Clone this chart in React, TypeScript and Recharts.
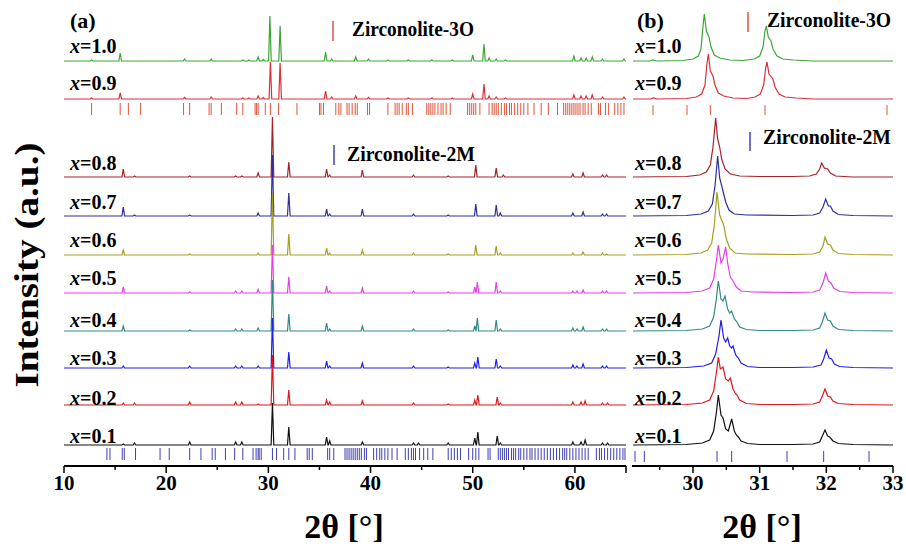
import React from 'react';
import { LineChart, Line, XAxis, YAxis, ReferenceLine } from 'recharts';

// ---------- data ----------
const SAMPLES = ['1.0', '0.9', '0.8', '0.7', '0.6', '0.5', '0.4', '0.3', '0.2', '0.1'];
// vertical stacking offset of each pattern (a.u.)
const OFFSETS = [405, 367, 289, 250, 211, 173, 135, 98, 61, 21];

// panel (a): reflections [2θ, intensity]
const PEAKS_10 = [[12.7,1],[15.5,8],[21.8,2],[24.4,2],[27.5,1],[28.1,1],[29.0,4],[29.5,1.5],[30.15,45],[31.15,35],[35.6,9],[36.2,2],[38.55,4],[39.8,2],[41.7,1],[43.7,1],[46.0,1],[48.0,1],[50.0,6],[51.1,17],[51.6,3],[52.3,2],[53.2,1],[59.9,5],[60.6,3],[61.1,3],[61.7,4],[62.7,2],[64.8,2]];
const PEAKS_09 = [[12.7,1],[15.5,6],[21.8,1.5],[24.4,2],[27.5,1],[28.1,1],[29.0,3],[29.5,1.5],[30.2,37],[31.15,36],[35.6,8],[36.2,2],[38.55,3],[39.8,1.5],[41.7,1],[43.7,1],[46.0,1],[48.0,1],[50.0,5],[51.1,15],[51.6,3],[52.3,2],[53.2,1],[59.9,4],[60.6,3],[61.1,3],[61.7,4],[62.7,2],[64.8,2]];
const PEAKS_08 = [[15.8,8],[16.9,1],[22.3,1],[26.8,1],[27.4,1],[29.0,4],[30.4,60],[32.0,15],[35.7,8],[36.0,2],[39.2,7],[44.2,2],[47.6,1],[50.3,12],[52.3,9],[53.0,2],[59.8,3],[60.8,4],[62.7,2],[63.1,2]];
const PEAKS_07 = [[15.8,9],[16.9,1],[22.3,1],[29.0,3],[30.4,61],[32.0,23],[35.7,7],[36.0,2],[39.2,7],[44.2,2],[47.6,1],[50.3,12],[52.3,11],[52.7,3],[59.8,3],[60.8,4],[62.7,2],[63.1,2]];
const PEAKS_06 = [[15.8,5],[22.3,1],[29.0,2],[30.4,62],[32.0,21],[35.7,7],[36.0,2],[39.2,5],[44.2,2],[47.6,1],[50.3,10],[52.3,9],[52.7,2],[59.8,2],[60.8,3],[62.7,2],[63.1,1]];
const PEAKS_05 = [[15.8,6],[22.3,1],[26.8,2],[27.4,2],[29.0,3.5],[30.4,48],[32.0,16],[35.7,7],[36.0,2],[39.2,5],[44.2,2],[47.6,1],[50.2,6],[50.45,11],[52.3,11],[52.7,2],[59.8,2],[60.2,2],[60.8,3],[62.7,2],[63.1,2]];
const PEAKS_04 = [[15.8,5],[22.3,1],[26.8,2],[27.4,2],[29.0,3],[30.4,51],[32.0,17],[35.7,8],[36.0,2],[39.2,5],[44.2,2],[47.6,1],[50.2,5],[50.45,13],[52.3,11],[52.7,2],[59.8,3],[60.2,2],[60.8,4],[62.7,2],[63.1,2]];
const PEAKS_03 = [[15.8,2],[22.3,2],[26.8,2],[27.4,2],[29.0,2],[30.4,50],[32.0,16],[35.7,7],[36.0,2],[39.2,5],[44.2,2],[47.6,1],[50.2,5],[50.5,11],[52.3,9],[52.7,2],[59.8,3],[60.2,2],[60.8,4],[62.7,2],[63.1,2]];
const PEAKS_02 = [[15.8,2],[16.9,2],[22.3,3],[26.8,3],[27.4,3],[29.0,1],[30.4,50],[32.0,15],[35.7,5],[36.0,3],[39.2,4],[44.2,2],[47.6,1],[50.2,5],[50.5,10],[52.4,8],[52.7,2],[59.8,3],[60.6,3],[61.0,4],[62.7,2],[63.2,2]];
const PEAKS_01 = [[15.8,1],[16.9,2],[22.3,3],[26.8,3],[27.4,3],[30.4,42],[32.0,18],[35.7,8],[36.0,4],[39.2,3],[44.2,2],[44.7,2],[47.6,2],[50.2,7],[50.5,13],[52.4,9],[52.7,2],[59.8,3],[60.6,3],[61.0,5],[62.7,2],[63.2,2]];
const PEAKS_A = [PEAKS_10, PEAKS_09, PEAKS_08, PEAKS_07, PEAKS_06, PEAKS_05, PEAKS_04, PEAKS_03, PEAKS_02, PEAKS_01];

// panel (b): measured profile points [2θ, intensity]
const PROF_10 = [[29.1,0],[29.35,0],[29.4,1],[29.45,0],[29.85,0.5],[30.0,2],[30.08,5],[30.12,12],[30.15,35],[30.17,47],[30.2,30],[30.24,24],[30.27,14],[30.32,6],[30.4,3],[30.55,1],[30.75,0.5],[30.92,2],[31.0,5],[31.05,14],[31.08,30],[31.1,35],[31.13,24],[31.17,20],[31.2,12],[31.26,5],[31.35,2],[31.5,1],[31.8,0],[33,0]];
const PROF_09 = [[29.1,0],[29.36,0],[29.41,1],[29.46,0],[29.9,0.5],[30.05,2],[30.13,5],[30.18,14],[30.21,36],[30.23,45],[30.26,28],[30.3,23],[30.33,14],[30.38,6],[30.46,3],[30.6,1],[30.8,0.5],[30.93,2],[31.01,5],[31.06,14],[31.09,31],[31.11,37],[31.14,25],[31.2,20],[31.23,12],[31.29,5],[31.38,2],[31.55,1],[31.8,0],[33,0]];
const PROF_08 = [[29.1,0],[29.9,0.5],[30.1,2],[30.2,5],[30.26,12],[30.3,30],[30.34,59],[30.37,38],[30.4,30],[30.43,18],[30.48,8],[30.56,3],[30.7,1],[31.0,0.5],[31.5,0.5],[31.75,1],[31.85,3],[31.9,8],[31.93,14],[31.97,9],[32.02,8],[32.06,4],[32.14,1],[32.4,0],[33,0]];
const PROF_07 = [[29.1,0],[29.9,0.5],[30.12,2],[30.23,5],[30.29,12],[30.33,30],[30.37,60],[30.4,38],[30.45,25],[30.49,14],[30.54,6],[30.62,2],[30.8,1],[31.5,0.5],[31.8,1],[31.9,3],[31.95,9],[31.99,17],[32.03,10],[32.06,10],[32.1,5],[32.18,1.5],[32.4,0.5],[33,0]];
const PROF_06 = [[29.1,0],[29.9,0.5],[30.12,2],[30.22,5],[30.28,12],[30.32,30],[30.36,63],[30.4,40],[30.46,30],[30.5,16],[30.55,7],[30.63,2],[30.8,1],[31.5,0.5],[31.8,1],[31.9,3],[31.95,9],[31.98,18],[32.02,11],[32.06,10],[32.1,5],[32.18,1.5],[32.4,0.5],[33,0]];
const PROF_05 = [[29.1,0],[29.9,0.5],[30.14,2],[30.25,5],[30.31,14],[30.35,32],[30.38,48],[30.42,30],[30.45,34],[30.49,46],[30.52,30],[30.56,16],[30.6,12],[30.65,6],[30.72,2],[30.9,1],[31.5,0.5],[31.8,1],[31.9,3],[31.95,10],[31.99,20],[32.03,12],[32.07,10],[32.11,5],[32.2,1.5],[32.4,0.5],[33,0]];
const PROF_04 = [[29.1,0],[29.9,0.5],[30.14,2],[30.25,5],[30.31,14],[30.35,32],[30.38,50],[30.42,32],[30.45,30],[30.48,35],[30.52,22],[30.55,18],[30.58,20],[30.62,12],[30.66,9],[30.7,4],[30.8,1.5],[31.0,0.5],[31.5,0.5],[31.8,1],[31.9,3],[31.94,9],[31.98,18],[32.02,11],[32.06,10],[32.1,5],[32.18,1.5],[32.4,0.5],[33,0]];
const PROF_03 = [[29.1,0],[29.9,0.5],[30.16,2],[30.28,5],[30.34,14],[30.39,32],[30.42,48],[30.46,30],[30.49,26],[30.52,30],[30.55,22],[30.58,20],[30.6,22],[30.64,13],[30.68,10],[30.72,5],[30.82,1.5],[31.0,0.5],[31.5,0.5],[31.8,1],[31.92,3],[31.96,9],[32.0,18],[32.04,10],[32.08,9],[32.12,4],[32.2,1.5],[32.4,0.5],[33,0]];
const PROF_02 = [[29.1,0],[29.9,0.5],[30.14,2],[30.25,5],[30.31,14],[30.35,32],[30.38,48],[30.41,36],[30.45,38],[30.49,26],[30.53,24],[30.56,27],[30.6,16],[30.63,12],[30.66,10],[30.7,5],[30.8,1.5],[31.0,0.5],[31.5,0.5],[31.8,1],[31.9,3],[31.94,9],[31.98,16],[32.02,9],[32.06,8],[32.1,4],[32.18,1.5],[32.4,0.5],[33,0]];
const PROF_01 = [[29.1,0],[29.9,0.5],[30.14,2],[30.25,5],[30.31,14],[30.35,32],[30.38,50],[30.42,30],[30.45,27],[30.49,16],[30.53,14],[30.58,26],[30.62,14],[30.65,10],[30.68,8],[30.72,4],[30.82,1.5],[31.0,0.5],[31.5,0.5],[31.8,1],[31.9,3],[31.94,9],[31.98,15],[32.02,9],[32.05,8],[32.1,4],[32.18,1.5],[32.4,0.5],[33,0]];
const PROF_B = [PROF_10, PROF_09, PROF_08, PROF_07, PROF_06, PROF_05, PROF_04, PROF_03, PROF_02, PROF_01];

// reference reflections (2θ)
const REF_3O_A = [12.7,15.5,16.3,17.5,21.7,22.3,24.2,24.4,25.4,26.9,27.5,28.7,28.85,29.0,29.7,30.2,31.0,32.8,35.0,35.15,35.4,36.6,36.9,37.1,37.7,37.9,38.2,38.5,38.7,39.7,39.9,41.7,42.4,42.6,42.8,43.1,43.5,43.7,44.1,45.5,45.7,45.9,46.1,46.3,46.6,46.9,47.1,47.4,47.8,49.5,49.7,49.9,50.1,50.3,50.7,51.6,51.9,52.1,52.3,52.5,52.8,53.1,53.3,53.6,53.8,54.1,54.4,54.7,55.0,55.4,56.0,56.7,57.4,58.3,58.9,59.1,59.3,59.5,59.7,59.9,60.1,60.3,60.5,60.8,61.0,61.3,61.6,62.3,62.5,63.0,63.3,63.9,64.2,64.5,64.8];
const REF_2M_A = [14.2,14.5,15.7,15.9,17.0,19.4,20.3,22.3,23.4,24.5,24.8,25.8,26.7,27.5,28.5,28.8,29.0,29.1,29.3,30.4,30.8,31.5,32.0,32.6,33.8,34.0,34.3,35.8,36.0,36.4,37.5,37.7,37.9,38.1,38.3,38.5,38.7,38.9,39.1,39.4,39.6,40.3,40.6,40.9,41.1,41.4,41.7,42.1,42.6,43.4,43.7,44.0,44.2,44.4,44.8,45.2,45.6,46.1,47.6,47.9,48.2,48.5,48.8,49.6,50.0,50.3,50.6,51.5,51.7,52.5,52.7,52.9,53.1,53.3,53.5,53.8,54.0,54.2,54.5,54.7,55.0,55.3,55.6,55.8,56.1,56.4,56.7,57.0,57.3,57.6,57.9,58.2,58.5,58.8,59.0,59.2,59.5,59.8,60.1,60.4,60.7,61.0,61.3,62.1,62.4,62.6,62.9,63.2,63.5,63.8,64.1,64.4,64.7,64.9];
const REF_3O_B = [29.4, 29.91, 30.26, 31.08, 32.91];
const REF_2M_B = [29.13, 29.27, 30.36, 30.58, 31.41, 31.96, 32.64];

const TICKS_A = [10, 15, 20, 25, 30, 35, 40, 45, 50, 55, 60, 65];
const TICKS_B = [29.5, 30, 30.5, 31, 31.5, 32, 32.5, 33];

// ---------- styles ----------
const COLORS = ['#3da534', '#dc2f3c', '#a3232b', '#2e2e9c', '#a59f21', '#e83ce8', '#2f8a85', '#1e1ef0', '#e3151b', '#111111'];
const C3O = '#e0553d';
const C2M = '#3f3fb5';
const FONT = "'Liberation Serif', 'Times New Roman', Times, serif";
const PLOT_TOP = 7;
const PLOT_BOTTOM = 466;
const Y_MAX = PLOT_BOTTOM - PLOT_TOP;
const HALF_WIDTH = 0.13;
const LABEL_Y = [53, 90, 170, 209, 247, 285, 327, 365, 405, 443];

const txt = (size: number, extra: any = {}) => ({ fontFamily: FONT, fontWeight: 700, fontSize: size, ...extra });

function buildA(i: number) {
  const pts: number[][] = [[10, 0]];
  PEAKS_A[i].forEach(([p, h]) => {
    pts.push([p - HALF_WIDTH, 0], [p, h], [p + HALF_WIDTH, 0]);
  });
  pts.push([65, 0]);
  pts.sort((a, b) => a[0] - b[0]);
  return pts.map(([t, v]) => ({ t, v: v + OFFSETS[i] }));
}
function buildB(i: number) {
  return PROF_B[i].map(([t, v]) => ({ t, v: v + OFFSETS[i] }));
}

function makeTick(isMajor: (v: number) => boolean, isLabeled: (v: number) => boolean) {
  return (props: any) => {
    const { x, payload } = props;
    const v = payload.value;
    const major = isMajor(v);
    return (
      <g>
        <line x1={x} x2={x} y1={PLOT_BOTTOM} y2={PLOT_BOTTOM + (major ? 7 : 4)} stroke="#000" strokeWidth={1.5} />
        {isLabeled(v) && (
          <text x={x} y={490} textAnchor="middle" fill="#000" style={txt(21)}>
            {v}
          </text>
        )}
      </g>
    );
  };
}

const tickA = makeTick((v) => v % 10 === 0 || v === 65, (v) => v % 10 === 0 && v < 65);
const tickB = makeTick((v) => Number.isInteger(v), (v) => Number.isInteger(v));

const axisLine = { stroke: '#000', strokeWidth: 2 };

function Panel({ width, margin, domain, ticks, tick, build, ref3O, ref2M, band3O, band2M }: any) {
  return (
    <LineChart width={width} height={549} margin={margin}>
      <XAxis type="number" dataKey="t" domain={domain} ticks={ticks} interval={0} allowDataOverflow
        axisLine={axisLine} tickLine={false} tick={tick} height={40} />
      <XAxis xAxisId="top" orientation="top" type="number" dataKey="t" domain={domain} allowDataOverflow
        axisLine={axisLine} tickLine={false} tick={false} height={0} />
      <YAxis type="number" domain={[0, Y_MAX]} allowDataOverflow width={0} axisLine={axisLine} tickLine={false} tick={false} />
      <YAxis yAxisId="r" orientation="right" type="number" domain={[0, Y_MAX]} width={0} axisLine={axisLine} tickLine={false} tick={false} />
      {ref3O.map((t: number, k: number) => (
        <ReferenceLine key={'o' + k} segment={[{ x: t, y: band3O[0] }, { x: t, y: band3O[1] }]} stroke={C3O} strokeWidth={1} />
      ))}
      {ref2M.map((t: number, k: number) => (
        <ReferenceLine key={'m' + k} segment={[{ x: t, y: band2M[0] }, { x: t, y: band2M[1] }]} stroke={C2M} strokeWidth={1} />
      ))}
      {SAMPLES.map((s, i) => (
        <Line key={s} data={build(i)} dataKey="v" name={'x=' + s} type="linear" dot={false} activeDot={false}
          stroke={COLORS[i]} strokeWidth={1.2} isAnimationActive={false} />
      ))}
    </LineChart>
  );
}

function SampleLabel({ x, y, s }: any) {
  return (
    <text x={x} y={y} fill="#000" style={txt(20)}>
      <tspan style={{ fontStyle: 'italic' }}>x</tspan>={s}
    </text>
  );
}

export default function App() {
  return (
    <div style={{ position: 'absolute', left: 0, top: 0, width: 906, height: 549, background: '#fff' }}>
      <div style={{ position: 'absolute', left: 0, top: 0 }}>
        <Panel width={640} margin={{ top: PLOT_TOP, right: 14, bottom: 43, left: 64 }} domain={[10, 65]}
          ticks={TICKS_A} tick={tickA} build={buildA} ref3O={REF_3O_A} ref2M={REF_2M_A}
          band3O={[351, 363]} band2M={[6, 18]} />
      </div>
      <div style={{ position: 'absolute', left: 620, top: 0 }}>
        <Panel width={286} margin={{ top: PLOT_TOP, right: 13, bottom: 43, left: 12 }} domain={[29.085, 33]}
          ticks={TICKS_B} tick={tickB} build={buildB} ref3O={REF_3O_B} ref2M={REF_2M_B}
          band3O={[351, 361]} band2M={[4, 15]} />
      </div>
      <svg width={906} height={549} style={{ position: 'absolute', left: 0, top: 0, pointerEvents: 'none' }}>
        <text x={70} y={28} style={txt(22)}>(a)</text>
        <text x={637} y={28} style={txt(22)}>(b)</text>
        {SAMPLES.map((s, i) => <SampleLabel key={'a' + s} x={70} y={LABEL_Y[i]} s={s} />)}
        {SAMPLES.map((s, i) => <SampleLabel key={'b' + s} x={635} y={LABEL_Y[i]} s={s} />)}
        <line x1={333} x2={333} y1={21} y2={41} stroke={C3O} strokeWidth={1.5} />
        <text x={352} y={36} style={txt(20)} textLength={122} lengthAdjust="spacingAndGlyphs">Zirconolite-3O</text>
        <line x1={334} x2={334} y1={145} y2={165} stroke={C2M} strokeWidth={1.5} />
        <text x={347} y={161} style={txt(20)} textLength={128} lengthAdjust="spacingAndGlyphs">Zirconolite-2M</text>
        <line x1={748} x2={748} y1={12} y2={32} stroke={C3O} strokeWidth={1.5} />
        <text x={767} y={27} style={txt(20)} textLength={124} lengthAdjust="spacingAndGlyphs">Zirconolite-3O</text>
        <line x1={750} x2={750} y1={132} y2={151} stroke={C2M} strokeWidth={1.5} />
        <text x={763} y={144} style={txt(20)} textLength={128} lengthAdjust="spacingAndGlyphs">Zirconolite-2M</text>
        <text x={38} y={265} transform="rotate(-90 38 265)" textAnchor="middle" style={txt(34)}
          textLength={245} lengthAdjust="spacingAndGlyphs">Intensity (a.u.)</text>
        <text x={344} y={538} textAnchor="middle" style={txt(34)}>2θ [°]</text>
        <text x={762} y={538} textAnchor="middle" style={txt(34)}>2θ [°]</text>
      </svg>
    </div>
  );
}
